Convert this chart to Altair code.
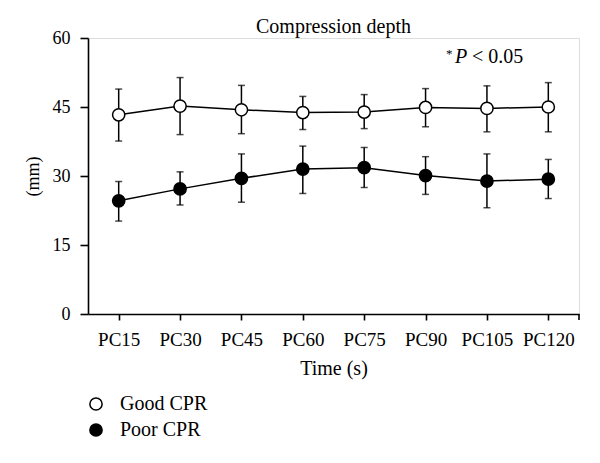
import altair as alt
import pandas as pd

times = ["PC15", "PC30", "PC45", "PC60", "PC75", "PC90", "PC105", "PC120"]
groups = ["Good CPR", "Poor CPR"]
good_mean = [43.3, 45.2, 44.4, 43.8, 43.9, 44.9, 44.7, 45.0]
good_hi = [48.9, 51.4, 49.7, 47.3, 47.7, 49.0, 49.6, 50.3]
good_lo = [37.6, 39.0, 39.2, 40.1, 40.3, 40.7, 39.6, 39.6]
poor_mean = [24.6, 27.2, 29.5, 31.5, 31.8, 30.1, 28.9, 29.3]
poor_hi = [28.8, 30.9, 34.8, 36.5, 36.2, 34.2, 34.8, 33.6]
poor_lo = [20.2, 23.7, 24.3, 26.2, 27.5, 26.0, 23.1, 25.1]

rows = []
for g, m, hi, lo in [(groups[0], good_mean, good_hi, good_lo), (groups[1], poor_mean, poor_hi, poor_lo)]:
    for t, a, b, c in zip(times, m, hi, lo):
        rows.append({"time": t, "group": g, "mean": a, "hi": b, "lo": c})
df = pd.DataFrame(rows)

FONT = "Liberation Serif"
W, H = 491, 276

x = alt.X("time:N", sort=times, scale=alt.Scale(type="point", padding=0.5),
          axis=alt.Axis(title="Time (s)", labelAngle=0, tickSize=6, labelPadding=10,
                        titlePadding=9, domainColor="black", tickColor="black",
                        domainWidth=1.6, tickWidth=1.6, labelFontSize=19, titleFontSize=20,
                        labelFont=FONT, titleFont=FONT, titleFontWeight="normal",
                        labelColor="black", titleColor="black", grid=False))
yscale = alt.Scale(domain=[0, 60], nice=False)
yaxis = alt.Axis(title="(mm)", values=[0, 15, 30, 45, 60], tickSize=8, labelPadding=10,
                 titlePadding=10, domainColor="black", tickColor="black",
                 domainWidth=1.6, tickWidth=1.6, labelFontSize=18, titleFontSize=18,
                 labelFont=FONT, titleFont=FONT, titleFontWeight="normal",
                 labelColor="black", titleColor="black", grid=False)

base = alt.Chart(df)

lines = base.mark_line(color="black", strokeWidth=1.5).encode(
    x=x, y=alt.Y("mean:Q", scale=yscale, axis=yaxis), detail="group:N")

bars = base.mark_rule(color="black", strokeWidth=1.5).encode(
    x=alt.X("time:N", sort=times), y="lo:Q", y2="hi:Q")
cap_hi = base.mark_tick(color="black", thickness=1.5, size=7).encode(
    x=alt.X("time:N", sort=times), y="hi:Q")
cap_lo = base.mark_tick(color="black", thickness=1.5, size=7).encode(
    x=alt.X("time:N", sort=times), y="lo:Q")

points = base.mark_point(shape="circle", size=150, filled=True, stroke="black",
                         strokeWidth=1.5, opacity=1).encode(
    x=alt.X("time:N", sort=times), y="mean:Q",
    fill=alt.Fill("group:N", scale=alt.Scale(domain=groups, range=["white", "black"]),
                  legend=alt.Legend(title=None, orient="none", legendX=-2, legendY=H + 80,
                                    symbolType="circle", symbolSize=150,
                                    symbolStrokeColor="black", symbolStrokeWidth=1.5,
                                    labelFont=FONT, labelFontSize=20, labelColor="black",
                                    labelOffset=14, rowPadding=6, padding=0)))

end_tick = alt.Chart(pd.DataFrame({"k": [0]})).mark_rule(color="black", strokeWidth=1.6).encode(
    x=alt.value(W), y=alt.value(H), y2=alt.value(H + 6))

title = alt.Chart(pd.DataFrame({"t": ["Compression depth"]})).mark_text(
    font=FONT, fontSize=20, color="black", align="center", baseline="alphabetic").encode(
    text="t:N", x=alt.value(W / 2), y=alt.value(-5))

star = alt.Chart(pd.DataFrame({"t": ["*"]})).mark_text(
    font=FONT, fontSize=13, color="black", align="left", baseline="alphabetic").encode(
    text="t:N", x=alt.value(358), y=alt.value(20))
pchar = alt.Chart(pd.DataFrame({"t": ["P"]})).mark_text(
    font=FONT, fontSize=20, fontStyle="italic", color="black", align="left",
    baseline="alphabetic").encode(text="t:N", x=alt.value(367), y=alt.value(25))
pval = alt.Chart(pd.DataFrame({"t": ["< 0.05"]})).mark_text(
    font=FONT, fontSize=20, color="black", align="left", baseline="alphabetic").encode(
    text="t:N", x=alt.value(384), y=alt.value(25))

chart = alt.layer(lines, bars, cap_hi, cap_lo, points, end_tick, title, star, pchar, pval).properties(
    width=W, height=H,
    autosize=alt.AutoSizeParams(type="none"),
    padding={"left": 80, "top": 30, "right": 10, "bottom": 135},
).configure_view(stroke=None).configure(background="white")

chart.save("out.html", embed_options={"renderer": "svg", "actions": False})
